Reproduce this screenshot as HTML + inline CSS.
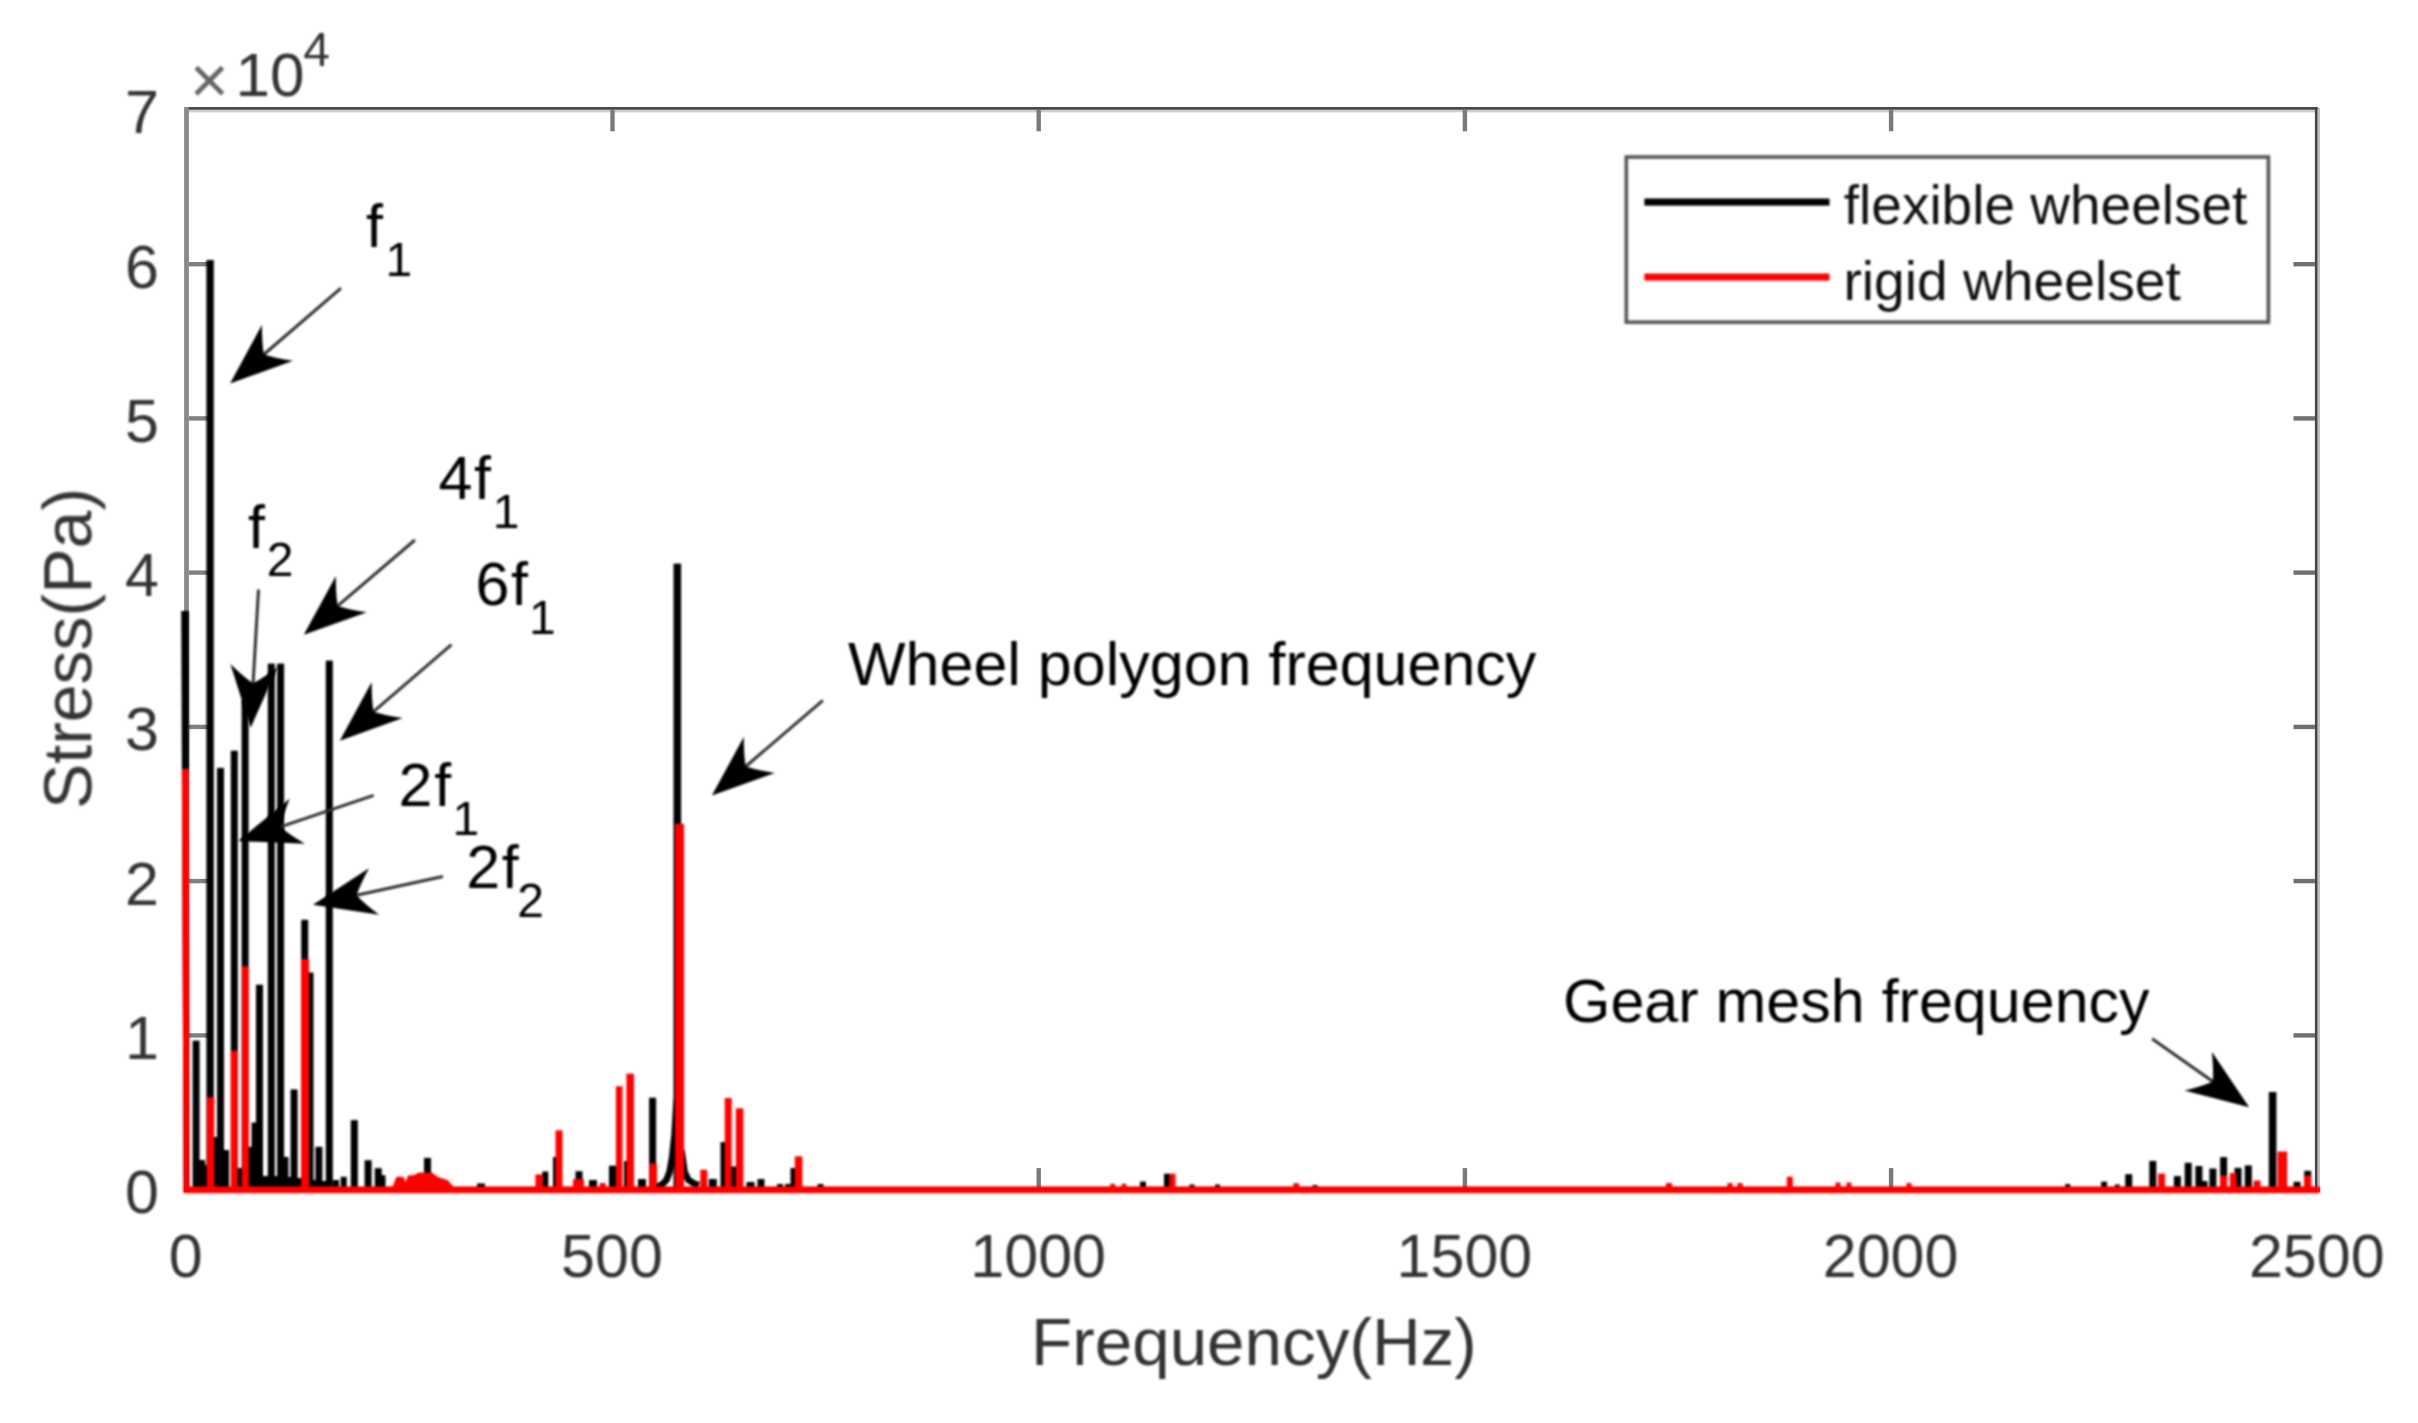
<!DOCTYPE html>
<html lang="en"><head><meta charset="utf-8"><title>Stress spectrum</title>
<style>
html,body{margin:0;padding:0;background:#fff;}
body{width:2418px;height:1423px;overflow:hidden;}
svg{display:block;}
.b{filter:blur(0.9px);}
</style></head><body>
<svg width="2418" height="1423" viewBox="0 0 2418 1423" font-family="'Liberation Sans', Arial, sans-serif">
<rect width="2418" height="1423" fill="#fff"/>
<g id="axes">
<rect x="186.9" y="107.05" width="2130.8" height="2.8" fill="#454545"/>
<rect x="188.9" y="109.85" width="2126.0" height="2.5" fill="#cdcdcd"/>
<rect x="2314.9" y="107.05" width="2.8" height="1085.0" fill="#454545"/>
<rect x="2317.7" y="107.6" width="2.2" height="1084.4" fill="#bdbdbd"/>
<rect x="184.1" y="107.05" width="4.8" height="1085.0" fill="#8a8a8a"/>
<rect x="184.1" y="1187.8" width="2135.8" height="3.6" fill="#5a5a5a"/>
<rect x="610.3" y="1168.1" width="4.4" height="21.5" fill="#7a7a7a"/>
<rect x="610.3" y="109.8" width="4.4" height="21.5" fill="#7a7a7a"/>
<rect x="1036.5" y="1168.1" width="4.4" height="21.5" fill="#7a7a7a"/>
<rect x="1036.5" y="109.8" width="4.4" height="21.5" fill="#7a7a7a"/>
<rect x="1462.7" y="1168.1" width="4.4" height="21.5" fill="#7a7a7a"/>
<rect x="1462.7" y="109.8" width="4.4" height="21.5" fill="#7a7a7a"/>
<rect x="1888.9" y="1168.1" width="4.4" height="21.5" fill="#7a7a7a"/>
<rect x="1888.9" y="109.8" width="4.4" height="21.5" fill="#7a7a7a"/>
<rect x="188.9" y="1033.2" width="19.5" height="4.4" fill="#808080"/>
<rect x="2293.5" y="1033.2" width="21.5" height="4.4" fill="#707070"/>
<rect x="188.9" y="878.9" width="19.5" height="4.4" fill="#808080"/>
<rect x="2293.5" y="878.9" width="21.5" height="4.4" fill="#707070"/>
<rect x="188.9" y="724.7" width="19.5" height="4.4" fill="#808080"/>
<rect x="2293.5" y="724.7" width="21.5" height="4.4" fill="#707070"/>
<rect x="188.9" y="570.4" width="19.5" height="4.4" fill="#808080"/>
<rect x="2293.5" y="570.4" width="21.5" height="4.4" fill="#707070"/>
<rect x="188.9" y="416.2" width="19.5" height="4.4" fill="#808080"/>
<rect x="2293.5" y="416.2" width="21.5" height="4.4" fill="#707070"/>
<rect x="188.9" y="262.0" width="19.5" height="4.4" fill="#808080"/>
<rect x="2293.5" y="262.0" width="21.5" height="4.4" fill="#707070"/>
</g>
<g id="ticklabels" class="b" font-size="61" fill="#333333">
<text x="158.9" y="1213.0" text-anchor="end">0</text>
<text x="158.9" y="1058.8" text-anchor="end">1</text>
<text x="158.9" y="904.5" text-anchor="end">2</text>
<text x="158.9" y="750.3" text-anchor="end">3</text>
<text x="158.9" y="596.0" text-anchor="end">4</text>
<text x="158.9" y="441.8" text-anchor="end">5</text>
<text x="158.9" y="287.6" text-anchor="end">6</text>
<text x="158.9" y="133.3" text-anchor="end">7</text>
<text x="185.8" y="1277.3" text-anchor="middle">0</text>
<text x="612.0" y="1277.3" text-anchor="middle">500</text>
<text x="1038.2" y="1277.3" text-anchor="middle">1000</text>
<text x="1464.4" y="1277.3" text-anchor="middle">1500</text>
<text x="1890.6" y="1277.3" text-anchor="middle">2000</text>
<text x="2316.8" y="1277.3" text-anchor="middle">2500</text>
</g>
<g id="labels" class="b">
<text x="1253.9" y="1365.4" font-size="67.4" fill="#333333" text-anchor="middle">Frequency(Hz)</text>
<text transform="translate(91.3,648.5) rotate(-90)" font-size="68" fill="#333333" text-anchor="middle">Stress(Pa)</text>
<text x="189.8" y="103.3" font-size="67" fill="#666666">×</text>
<text x="235.6" y="95.8" font-size="62" fill="#333333">10</text>
<text x="303.2" y="65.9" font-size="48" fill="#333333">4</text>
</g>
<g id="data" class="b">
<g id="flex" fill="#000">
<path d="M181.2,611 L188.8,611 L189.4,1192 L183.6,1192 Z"/>
<rect x="192.6" y="1040.6" width="7.0" height="151.0"/>
<rect x="206.4" y="260.0" width="7.4" height="931.6"/>
<rect x="217.0" y="767.9" width="7.0" height="423.7"/>
<rect x="230.8" y="750.7" width="7.0" height="440.9"/>
<rect x="241.6" y="700.0" width="7.0" height="491.6"/>
<rect x="256.0" y="984.7" width="7.0" height="206.9"/>
<rect x="267.8" y="663.6" width="7.0" height="528.0"/>
<rect x="277.1" y="663.6" width="7.0" height="528.0"/>
<rect x="290.6" y="1089.4" width="7.0" height="102.2"/>
<rect x="301.2" y="919.8" width="7.0" height="271.8"/>
<rect x="306.5" y="972.5" width="7.0" height="219.1"/>
<rect x="315.4" y="1146.8" width="7.0" height="44.8"/>
<rect x="325.8" y="660.6" width="7.0" height="531.0"/>
<rect x="340.7" y="1176.8" width="6.0" height="14.8"/>
<rect x="350.8" y="1120.1" width="7.0" height="71.5"/>
<rect x="364.6" y="1160.2" width="7.0" height="31.4"/>
<rect x="374.8" y="1168.1" width="7.0" height="23.5"/>
<rect x="380.5" y="1175.2" width="5.0" height="16.4"/>
<rect x="424.0" y="1157.9" width="7.0" height="33.7"/>
<rect x="477.0" y="1183.5" width="8.0" height="8.1"/>
<rect x="542.3" y="1171.5" width="6.0" height="20.1"/>
<rect x="553.0" y="1157.0" width="6.0" height="34.6"/>
<rect x="575.5" y="1171.2" width="7.0" height="20.4"/>
<rect x="589.0" y="1180.0" width="8.0" height="11.6"/>
<rect x="609.0" y="1165.7" width="7.0" height="25.9"/>
<rect x="624.0" y="1161.0" width="8.0" height="30.6"/>
<rect x="638.0" y="1179.0" width="8.0" height="12.6"/>
<rect x="649.1" y="1097.7" width="7.0" height="93.9"/>
<rect x="673.5" y="563.6" width="7.6" height="628.0"/>
<rect x="708.8" y="1179.0" width="8.0" height="12.6"/>
<rect x="720.5" y="1142.1" width="6.0" height="49.5"/>
<rect x="731.0" y="1166.5" width="6.0" height="25.1"/>
<rect x="746.5" y="1182.0" width="8.0" height="9.6"/>
<rect x="757.5" y="1179.0" width="7.0" height="12.6"/>
<rect x="777.0" y="1184.0" width="6.0" height="7.6"/>
<rect x="785.0" y="1184.0" width="6.0" height="7.6"/>
<rect x="790.5" y="1168.0" width="6.0" height="23.6"/>
<rect x="817.5" y="1184.0" width="6.0" height="7.6"/>
<rect x="1140.0" y="1181.6" width="6.0" height="10.0"/>
<rect x="1164.0" y="1173.7" width="6.0" height="17.9"/>
<rect x="1189.5" y="1184.5" width="5.0" height="7.1"/>
<rect x="1215.0" y="1184.5" width="5.0" height="7.1"/>
<rect x="1312.5" y="1185.0" width="5.0" height="6.6"/>
<rect x="2065.2" y="1184.0" width="5.0" height="7.6"/>
<rect x="2101.1" y="1181.7" width="6.0" height="9.9"/>
<rect x="2114.8" y="1184.5" width="5.0" height="7.1"/>
<rect x="2125.2" y="1174.2" width="7.0" height="17.4"/>
<rect x="2149.3" y="1160.9" width="7.0" height="30.7"/>
<rect x="2173.9" y="1176.1" width="7.0" height="15.5"/>
<rect x="2184.7" y="1162.8" width="7.0" height="28.8"/>
<rect x="2195.4" y="1166.0" width="7.0" height="25.6"/>
<rect x="2201.5" y="1181.0" width="6.0" height="10.6"/>
<rect x="2209.4" y="1168.5" width="7.0" height="23.1"/>
<rect x="2220.1" y="1157.1" width="7.0" height="34.5"/>
<rect x="2234.5" y="1167.9" width="7.0" height="23.7"/>
<rect x="2244.8" y="1165.4" width="7.0" height="26.2"/>
<rect x="2268.8" y="1092.0" width="7.6" height="99.6"/>
<rect x="2293.5" y="1181.8" width="7.0" height="9.8"/>
<rect x="2304.2" y="1170.8" width="7.0" height="20.8"/>
<rect x="197.0" y="1160.0" width="8.0" height="31.6"/>
<rect x="202.0" y="1165.0" width="6.0" height="26.6"/>
<rect x="213.5" y="1137.0" width="6.0" height="54.6"/>
<rect x="223.0" y="1150.0" width="6.0" height="41.6"/>
<rect x="237.0" y="1168.0" width="6.0" height="23.6"/>
<rect x="247.5" y="1146.9" width="6.0" height="44.7"/>
<rect x="251.5" y="1122.5" width="6.0" height="69.1"/>
<rect x="261.5" y="1176.0" width="8.0" height="15.6"/>
<rect x="273.0" y="1176.0" width="6.0" height="15.6"/>
<rect x="282.5" y="1157.0" width="6.0" height="34.6"/>
<rect x="286.0" y="1177.0" width="6.0" height="14.6"/>
<rect x="296.0" y="1178.0" width="6.0" height="13.6"/>
<rect x="311.0" y="1180.0" width="6.0" height="11.6"/>
<rect x="321.0" y="1181.0" width="6.0" height="10.6"/>
<rect x="333.0" y="1180.0" width="6.0" height="11.6"/>
<path d="M657,1187 L662,1184.5 L666.5,1180 L669.5,1172 L672,1158 L674.5,1135 L676.6,1100 M681.5,1150 L684.5,1172 L688.5,1180 L694,1183.5 L699,1185" fill="none" stroke="#000" stroke-width="6.5" stroke-linejoin="round"/>
</g>
<g id="rigid" fill="#ff0000">
<path d="M181.9,768.7 L189,768.7 L189.4,1192 L183.6,1192 Z"/>
<rect x="206.7" y="1097.3" width="7.6" height="94.3"/>
<rect x="230.8" y="1050.8" width="7.0" height="140.8"/>
<rect x="241.8" y="966.2" width="7.0" height="225.4"/>
<rect x="301.1" y="959.1" width="8.0" height="232.5"/>
<rect x="535.4" y="1174.4" width="7.0" height="17.2"/>
<rect x="555.5" y="1130.3" width="7.0" height="61.3"/>
<rect x="573.0" y="1179.1" width="11.0" height="12.5"/>
<rect x="599.7" y="1183.0" width="6.0" height="8.6"/>
<rect x="615.9" y="1086.2" width="6.6" height="105.4"/>
<rect x="626.4" y="1073.7" width="7.6" height="117.9"/>
<rect x="649.4" y="1163.4" width="7.6" height="28.2"/>
<rect x="675.1" y="823.8" width="9.0" height="367.8"/>
<rect x="700.3" y="1169.7" width="7.0" height="21.9"/>
<rect x="724.7" y="1098.0" width="7.0" height="93.6"/>
<rect x="735.8" y="1108.3" width="7.6" height="83.3"/>
<rect x="794.8" y="1156.3" width="7.6" height="35.3"/>
<rect x="1110.2" y="1183.8" width="5.0" height="7.8"/>
<rect x="1121.5" y="1183.8" width="5.0" height="7.8"/>
<rect x="1169.5" y="1173.7" width="6.0" height="17.9"/>
<rect x="1293.2" y="1183.2" width="6.0" height="8.4"/>
<rect x="1666.0" y="1183.0" width="6.0" height="8.6"/>
<rect x="1727.5" y="1183.0" width="5.0" height="8.6"/>
<rect x="1737.5" y="1183.0" width="5.0" height="8.6"/>
<rect x="1786.8" y="1176.7" width="6.0" height="14.9"/>
<rect x="1835.5" y="1182.5" width="5.0" height="9.1"/>
<rect x="1846.5" y="1182.5" width="5.0" height="9.1"/>
<rect x="1906.5" y="1183.0" width="5.0" height="8.6"/>
<rect x="2158.1" y="1173.6" width="7.0" height="18.0"/>
<rect x="2220.1" y="1175.5" width="7.0" height="16.1"/>
<rect x="2229.8" y="1173.0" width="6.5" height="18.6"/>
<rect x="2253.6" y="1180.5" width="7.0" height="11.1"/>
<rect x="2277.6" y="1151.5" width="9.6" height="40.1"/>
<rect x="2304.2" y="1175.5" width="7.0" height="16.1"/>
<path d="M392,1188 L396.4,1176.8 L403.5,1176.8 L405.5,1182 L408,1175.5 L414,1175 L419,1172.6 L432,1172.6 L438,1177 L447.6,1180 L453,1186 L453,1190 L392,1190 Z"/>
<rect x="183.6" y="1186.4" width="2136.1" height="6.8"/>
</g>
</g>
<g id="legend" class="b">
<rect x="1626.3" y="157" width="642.1" height="165.2" fill="#fff" stroke="#5a5a5a" stroke-width="3.7"/>
<rect x="1644.4" y="198.5" width="185.1" height="7.1" fill="#000"/>
<rect x="1644.4" y="273.5" width="185.1" height="7.1" fill="#ff0000"/>
<text x="1843.8" y="223.9" font-size="55" fill="#111">flexible wheelset</text>
<text x="1843.4" y="299.5" font-size="55.2" fill="#111">rigid wheelset</text>
</g>
<g id="annot" class="b">
<line x1="341.0" y1="288.1" x2="263.8" y2="354.5" stroke="#303030" stroke-width="3"/><path d="M230.1,383.5 L293.0,360.8 Q275.7,358.4 263.8,354.5 Q261.8,342.1 262.0,324.7 Z" fill="#000"/>
<line x1="258.5" y1="589.5" x2="253.1" y2="683.3" stroke="#303030" stroke-width="3"/><path d="M250.6,727.7 L277.9,666.7 Q264.2,677.4 253.1,683.3 Q242.8,676.2 230.4,663.9 Z" fill="#000"/>
<line x1="414.9" y1="540.0" x2="337.7" y2="605.9" stroke="#303030" stroke-width="3"/><path d="M303.8,634.8 L366.8,612.3 Q349.5,609.8 337.7,605.9 Q335.6,593.5 335.9,576.1 Z" fill="#000"/>
<line x1="451.5" y1="644.7" x2="373.5" y2="711.7" stroke="#303030" stroke-width="3"/><path d="M339.8,740.7 L402.7,718.0 Q385.5,715.6 373.5,711.7 Q371.5,699.3 371.7,681.9 Z" fill="#000"/>
<line x1="373.6" y1="795.4" x2="280.4" y2="826.9" stroke="#303030" stroke-width="3"/><path d="M238.2,841.1 L305.0,843.7 Q289.9,834.9 280.4,826.9 Q283.1,814.6 289.8,798.6 Z" fill="#000"/>
<line x1="442.9" y1="876.5" x2="356.5" y2="895.3" stroke="#303030" stroke-width="3"/><path d="M313.0,904.8 L379.1,914.8 Q365.1,904.4 356.5,895.3 Q360.6,883.5 369.0,868.2 Z" fill="#000"/>
<line x1="822.9" y1="700.4" x2="745.7" y2="766.5" stroke="#303030" stroke-width="3"/><path d="M711.9,795.5 L774.8,772.9 Q757.6,770.5 745.7,766.5 Q743.7,754.2 743.9,736.8 Z" fill="#000"/>
<line x1="2152.1" y1="1038.7" x2="2212.8" y2="1081.5" stroke="#303030" stroke-width="3"/><path d="M2249.2,1107.2 L2211.8,1051.7 Q2213.7,1069.0 2212.8,1081.5 Q2201.4,1086.6 2184.4,1090.6 Z" fill="#000"/>
<text x="366.0" y="246.6" font-size="61" fill="#000">f</text><text x="385.5" y="275.9" font-size="48" fill="#000">1</text>
<text x="248.0" y="547.8" font-size="61" fill="#000">f</text><text x="266.8" y="576.0" font-size="48" fill="#000">2</text>
<text x="438.5" y="498.8" font-size="61" fill="#000">4<tspan dx="1.6">f</tspan></text><text x="492.8" y="527.8" font-size="48" fill="#000">1</text>
<text x="475.4" y="604.8" font-size="61" fill="#000">6<tspan dx="1.6">f</tspan></text><text x="529.1" y="634.0" font-size="48" fill="#000">1</text>
<text x="398.6" y="805.6" font-size="61" fill="#000">2<tspan dx="1.6">f</tspan></text><text x="452.5" y="835.0" font-size="48" fill="#000">1</text>
<text x="466.2" y="887.5" font-size="61" fill="#000">2<tspan dx="1.6">f</tspan></text><text x="517.3" y="916.9" font-size="48" fill="#000">2</text>
<text x="848" y="685.1" font-size="61" fill="#000">Wheel polygon frequency</text>
<text x="1563" y="1022.2" font-size="61" fill="#000">Gear mesh frequency</text>
</g>
</svg>
</body></html>
